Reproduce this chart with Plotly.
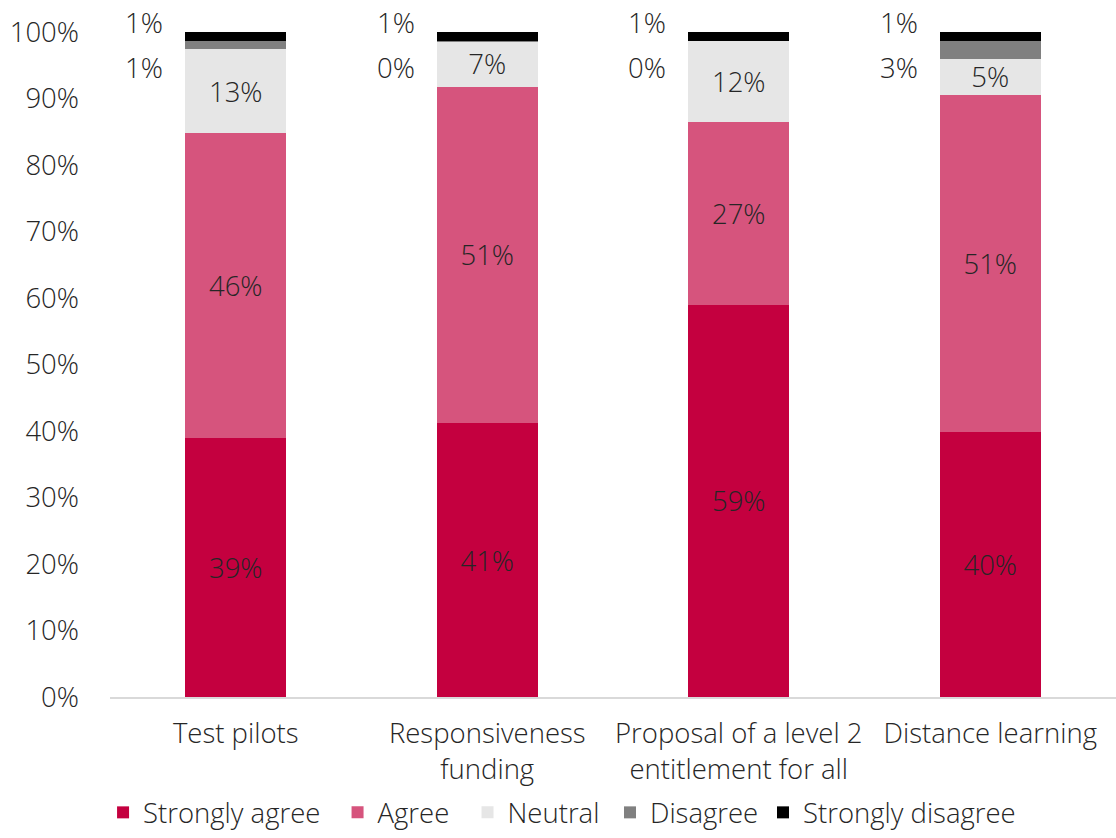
import plotly.graph_objects as go

# Survey responses per proposal (percent of respondents)
categories = ["Test pilots", "Responsiveness<br>funding",
              "Proposal of a level 2<br>entitlement for all", "Distance learning"]
strongly_agree = [39.0, 41.2, 59.0, 39.8]
agree = [45.8, 50.6, 27.4, 50.8]
neutral = [12.6, 6.8, 12.3, 5.4]
disagree = [1.3, 0.1, 0.0, 2.7]
strongly_disagree = [1.3, 1.3, 1.3, 1.3]

y_ticks = list(range(0, 101, 10))
y_tick_labels = [f"{t}%" for t in y_ticks]

FONT = "Open Sans"
TEXT = "#262626"
FS = 27.5
WEIGHT = 300

def font(size=FS):
    return dict(family=FONT, size=size, color=TEXT, weight=WEIGHT)

series = [
    ("Strongly agree", strongly_agree, "#C4003F", True),
    ("Agree", agree, "#D6547D", True),
    ("Neutral", neutral, "#E6E6E6", True),
    ("Disagree", disagree, "#808080", False),
    ("Strongly disagree", strongly_disagree, "#000000", False),
]

# one legend box per series, spread along the bottom (paper x of each box)
legend_x = [-0.0069, 0.2262, 0.3554, 0.4970, 0.6491]
legend_ids = ["legend", "legend2", "legend3", "legend4", "legend5"]

x_idx = list(range(len(categories)))
fig = go.Figure()
for (name, vals, color, inside), lid in zip(series, legend_ids):
    fig.add_trace(go.Bar(
        name=name, x=x_idx, y=vals, legend=lid,
        marker=dict(color=color, line=dict(width=0)),
        texttemplate="%{y:.0f}%" if inside else None,
        textposition="inside" if inside else "none",
        insidetextanchor="middle", textangle=0,
        constraintext="none",
        textfont=font(),
        hoverinfo="skip",
    ))

# Small segments are labelled to the left of each bar (paper y: 1.0 = 100%)
annotations = []
bar_half = 0.2
for i in x_idx:
    for vals, ypos in ((strongly_disagree, 1.015), (disagree, 0.946)):
        annotations.append(dict(
            x=i - bar_half, y=ypos, xref="x", yref="paper",
            text=f"{vals[i]:.0f}%", showarrow=False,
            xanchor="right", yanchor="middle", xshift=-20,
            font=font(),
        ))

legend_style = dict(orientation="h", yanchor="bottom", y=-0.2105, xanchor="left",
                    font=font(), itemwidth=30, itemclick=False,
                    bgcolor="rgba(0,0,0,0)", borderwidth=0)

fig.update_layout(
    barmode="stack", bargap=0.6,
    width=1116, height=838,
    margin=dict(l=110, r=0, t=32, b=141, autoexpand=False),
    paper_bgcolor="white", plot_bgcolor="white",
    font=font(),
    showlegend=True,
    annotations=annotations,
    xaxis=dict(tickmode="array", tickvals=x_idx, ticktext=categories,
               range=[-0.5, len(categories) - 0.5],
               showline=True, linecolor="#D9D9D9", linewidth=2,
               showgrid=False, zeroline=False, ticks="",
               automargin=False, ticklabelstandoff=11,
               tickfont=font()),
    yaxis=dict(range=[0, 100], tickmode="array", tickvals=y_ticks, ticktext=y_tick_labels,
               showgrid=False, zeroline=False, showline=False, ticks="",
               automargin=False, ticklabelstandoff=30,
               tickfont=font()),
)
for lid, lx in zip(legend_ids, legend_x):
    fig.update_layout({lid: dict(legend_style, x=lx)})

fig.write_html("out.html")
